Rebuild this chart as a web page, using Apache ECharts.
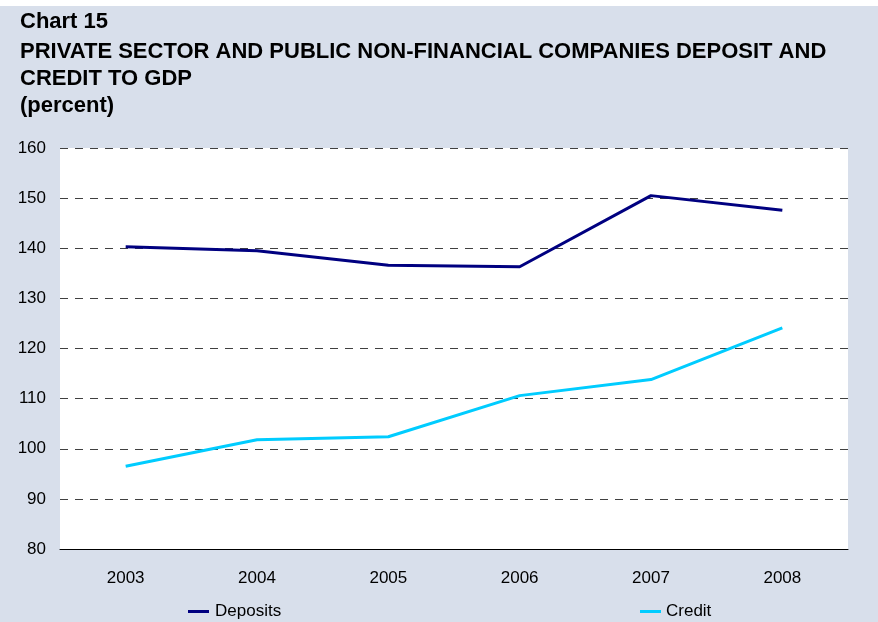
<!DOCTYPE html>
<html>
<head>
<meta charset="utf-8">
<script src="https://cdn.jsdelivr.net/npm/echarts@6/dist/echarts.min.js"></script>
<style>
html,body{margin:0;padding:0;background:#ffffff;}
#chart{width:878px;height:622px;}
</style>
</head>
<body>
<div id="chart"></div>
<script>
const years = ['2003', '2004', '2005', '2006', '2007', '2008'];
const deposits = [140.3, 139.5, 136.6, 136.3, 150.5, 147.6];
const credit = [96.5, 101.8, 102.4, 110.6, 113.8, 124.1];
const titleLines = [
  'Chart 15',
  'PRIVATE SECTOR AND PUBLIC NON-FINANCIAL COMPANIES DEPOSIT AND',
  'CREDIT TO GDP',
  '(percent)'
];
const titleCenters = [22, 52, 79, 106];

const chart = echarts.init(document.getElementById('chart'));
const font = '"Liberation Sans", Arial, sans-serif';
const titleGraphics = titleLines.map((t, i) => ({
  type: 'text', silent: true, x: 20, y: titleCenters[i],
  style: { text: t, font: 'bold 22px ' + font, fill: '#000000', verticalAlign: 'middle', align: 'left' }
}));
chart.setOption({
  backgroundColor: '#ffffff',
  animation: false,
  graphic: [
    { type: 'rect', z: -10, silent: true, shape: { x: 0, y: 6, width: 878, height: 616 }, style: { fill: '#D8DFEB' } },
    { type: 'rect', z: -9, silent: true, shape: { x: 60, y: 148, width: 788, height: 401 }, style: { fill: '#ffffff' } }
  ].concat(titleGraphics),
  legend: [
    { data: ['Deposits'], left: 188, top: 603, padding: 0, icon: 'rect', itemWidth: 21, itemHeight: 3, itemGap: 6,
      textStyle: { fontFamily: font, fontSize: 17, color: '#000', padding: [0, 0, 0, 1] } },
    { data: ['Credit'], left: 640, top: 603, padding: 0, icon: 'rect', itemWidth: 21, itemHeight: 3, itemGap: 6,
      textStyle: { fontFamily: font, fontSize: 17, color: '#000', padding: [0, 0, 0, 0] } }
  ],
  grid: { left: 60, right: 30, top: 148, bottom: 73, containLabel: false },
  xAxis: {
    type: 'category', data: years, boundaryGap: true,
    axisLine: { show: true, lineStyle: { color: '#000', width: 1 } },
    axisTick: { show: false },
    axisLabel: { fontFamily: font, fontSize: 17, color: '#000', margin: 21 },
    splitLine: { show: false }
  },
  yAxis: {
    type: 'value', min: 80, max: 160, interval: 10,
    axisLine: { show: false }, axisTick: { show: false },
    axisLabel: { fontFamily: font, fontSize: 17, color: '#000', margin: 14 },
    splitLine: { show: true, lineStyle: { color: '#404040', width: 1, type: [8, 7] } }
  },
  series: [
    { name: 'Deposits', type: 'line', data: deposits, symbol: 'none', lineStyle: { color: '#000080', width: 3 }, itemStyle: { color: '#000080' } },
    { name: 'Credit', type: 'line', data: credit, symbol: 'none', lineStyle: { color: '#00CCFF', width: 3 }, itemStyle: { color: '#00CCFF' } }
  ]
});
</script>
</body>
</html>
